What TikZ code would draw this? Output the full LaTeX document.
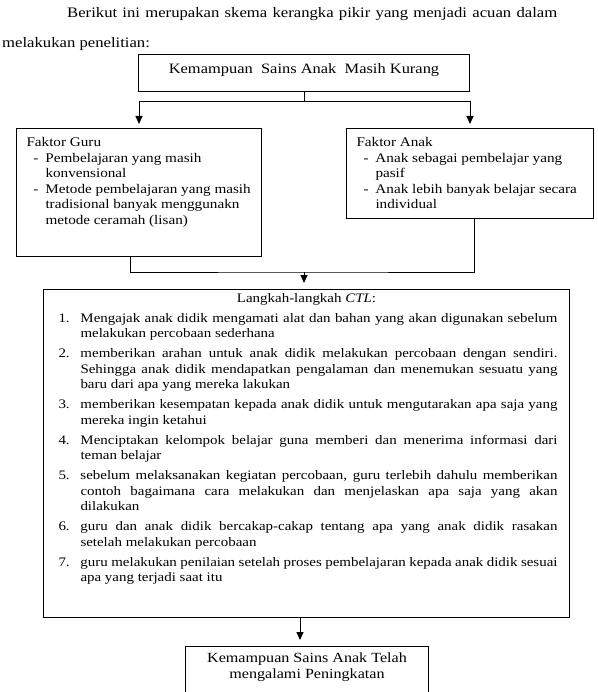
\documentclass[tikz,border=0pt]{standalone}
\usepackage{fontspec}
\setmainfont{Liberation Serif}[FakeStretch=1.15]
\usetikzlibrary{arrows.meta}

\tolerance=10000
\hyphenpenalty=10000

\tikzset{
    kotak/.style={draw, line width=1pt, anchor=north west, inner xsep=10pt, inner ysep=9pt},
    garis/.style={line width=1pt},
    panah/.style={->, line width=1pt, shorten >=5pt},
}
\newcommand{\strip}[1]{\par\hangindent=19pt\hangafter=1\noindent\makebox[19pt][l]{\hspace{7pt}-}#1}
\newcommand{\butir}[2]{\par\hangindent=25pt\hangafter=1\noindent\makebox[25pt][l]{\hspace{3pt}#1}#2}

\begin{document}
\begin{tikzpicture}[x=1pt, y=-1pt, >={Triangle[length=8pt,width=7pt]},
    font=\fontsize{13.2}{15.5}\selectfont]
    \useasboundingbox (0,0) rectangle (597,692);
    \clip (0,0) rectangle (597,692);

    % kalimat pengantar
    \node[anchor=base west, inner sep=0pt, font=\fontsize{14.5}{17}\selectfont] (kalimat1) at (67,18)
        {\makebox[490pt][s]{Berikut ini merupakan skema kerangka pikir yang menjadi acuan dalam}};
    \node[anchor=base west, inner sep=0pt, font=\fontsize{14.5}{17}\selectfont] (kalimat2) at (2,48)
        {melakukan penelitian:};

    % kotak
    \node[kotak, inner ysep=9.4pt] (atas) at (138,54)
        {\parbox[t][18.2pt][t]{311pt}{\centering\fontsize{14.3}{16}\selectfont Kemampuan\ \ Sains Anak\ \ Masih Kurang}};
    \node[kotak] (guru) at (16,128)
        {\parbox[t][110pt][t]{225pt}{\raggedright Faktor Guru
            \strip{Pembelajaran yang masih\newline konvensional}
            \strip{Metode pembelajaran yang masih\newline tradisional banyak menggunakn\newline metode ceramah (lisan)}}};
    \node[kotak] (anak) at (346,128)
        {\parbox[t][72pt][t]{227pt}{\raggedright Faktor Anak
            \strip{Anak sebagai pembelajar yang\newline pasif}
            \strip{Anak lebih banyak belajar secara\newline individual}}};
    \node[kotak, inner xsep=12pt, inner ysep=3.5pt] (ctl) at (43,289)
        {\parbox[t][321pt][t]{502pt}{\fontsize{13}{15.5}\selectfont
            {\centering Langkah-langkah \textit{CTL}:\par}\parskip=4.5pt
            \butir{1.}{Mengajak anak didik mengamati alat dan bahan yang akan digunakan sebelum\linebreak melakukan percobaan sederhana}
            \butir{2.}{memberikan arahan untuk anak didik melakukan percobaan dengan sendiri.\linebreak Sehingga anak didik mendapatkan pengalaman dan menemukan sesuatu yang\linebreak baru dari apa yang mereka lakukan}
            \butir{3.}{memberikan kesempatan kepada anak didik untuk mengutarakan apa saja yang\linebreak mereka ingin ketahui}
            \butir{4.}{Menciptakan kelompok belajar guna memberi dan menerima informasi dari\linebreak teman belajar}
            \butir{5.}{sebelum melaksanakan kegiatan percobaan, guru terlebih dahulu memberikan\linebreak contoh bagaimana cara melakukan dan menjelaskan apa saja yang akan\linebreak dilakukan}
            \butir{6.}{guru dan anak didik bercakap-cakap tentang apa yang anak didik rasakan\linebreak setelah melakukan percobaan}
            \butir{7.}{guru melakukan penilaian setelah proses pembelajaran kepada anak didik sesuai\linebreak apa yang terjadi saat itu}}};
    \node[kotak, inner xsep=8pt, inner ysep=6pt] (hasil) at (185,646)
        {\parbox[t][80pt][t]{227pt}{\centering\fontsize{14}{16}\selectfont Kemampuan Sains Anak Telah\\ mengalami Peningkatan}};

    % panah
    \coordinate (cabang) at (304,102);
    \coordinate (gabung) at (304,272);
    \coordinate (turun) at (300,617);
    \draw[garis] (atas.south) -- (atas.south |- cabang);
    \draw[panah, shorten >=4pt] (atas.south |- cabang) -| (guru.north);
    \draw[panah, shorten >=4pt] (atas.south |- cabang) -| (anak.north);
    \draw[garis] ([xshift=-8.5pt]guru.south) |- (gabung) -| ([xshift=4.5pt]anak.south);
    \draw[panah, shorten >=6pt] (gabung) -- (gabung |- ctl.north);
    \draw[panah, shorten >=6pt] (turun |- ctl.south) -- (turun |- hasil.north);
\end{tikzpicture}
\end{document}
